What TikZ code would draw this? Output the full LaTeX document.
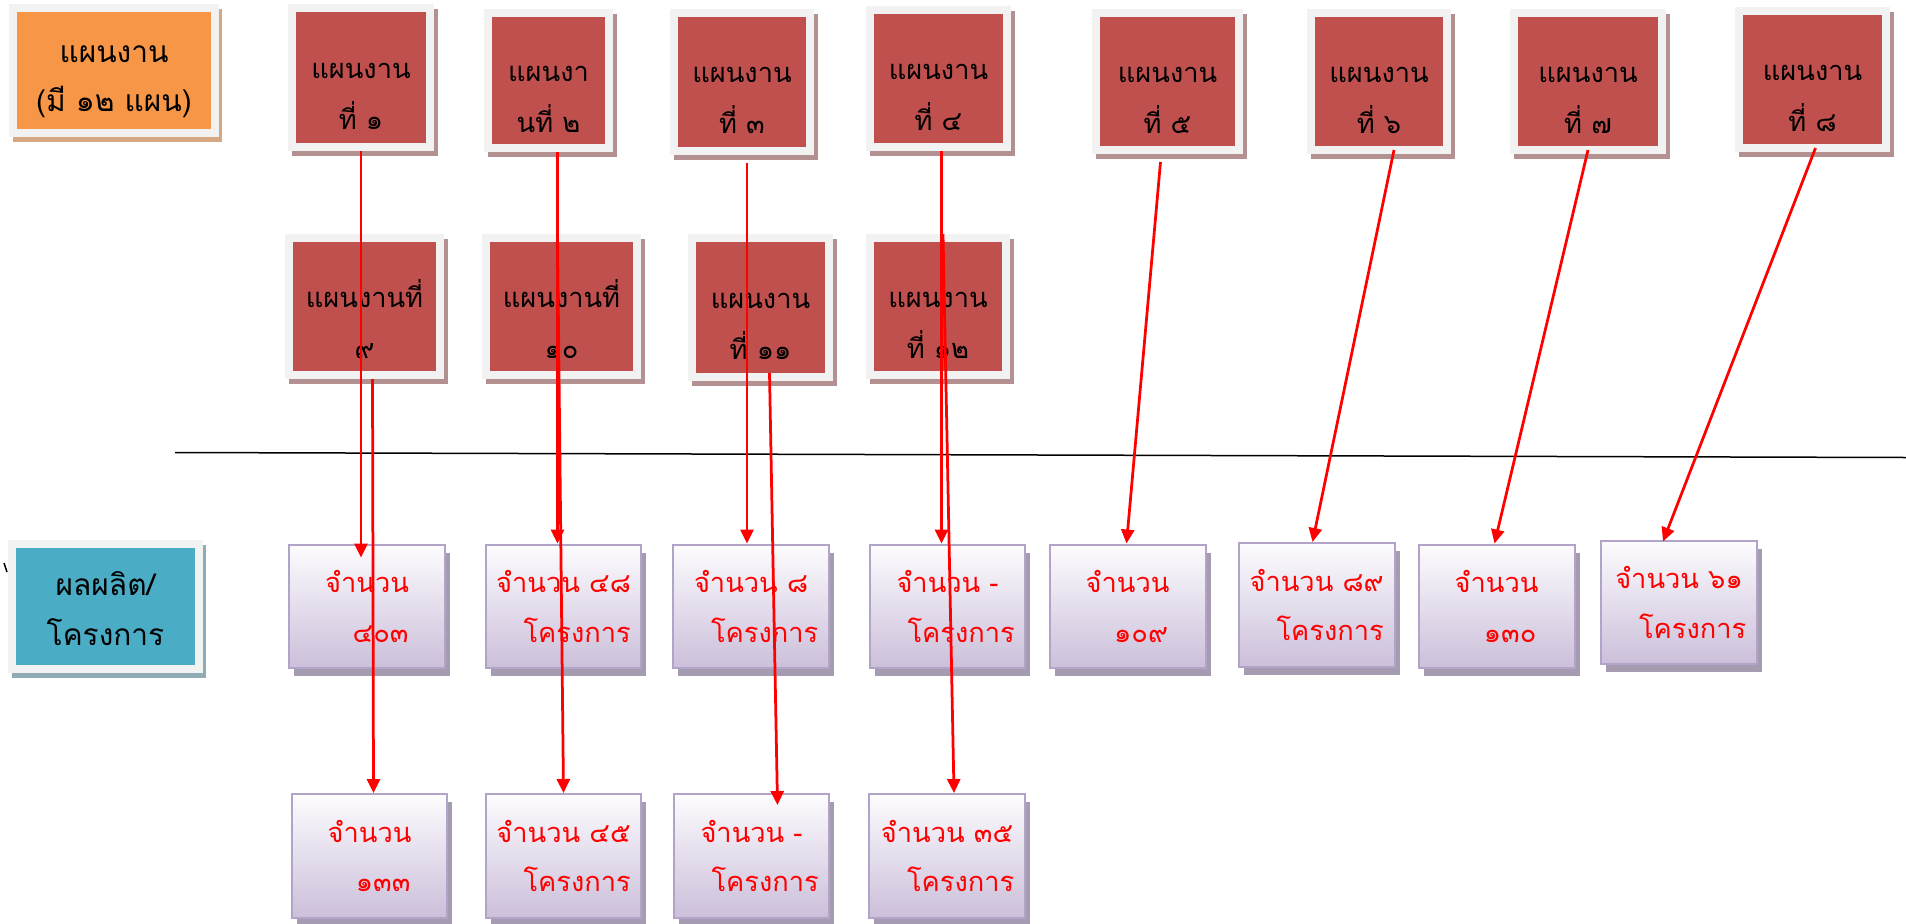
\documentclass[tikz,border=0pt]{standalone}
\usepackage{fontspec}
\usepackage{tikz}
\usetikzlibrary{calc,arrows.meta}
\newfontfamily\thaifont[Script=Thai]{Loma}
\definecolor{planred}{HTML}{C0504D}
\definecolor{planshadow}{HTML}{B39191}
\definecolor{framegray}{HTML}{F2F2F2}
\definecolor{headorange}{HTML}{F79646}
\definecolor{orangeshadow}{HTML}{D6A781}
\definecolor{headblue}{HTML}{4BACC6}
\definecolor{blueshadow}{HTML}{8FABB3}
\definecolor{outtop}{HTML}{FDFCFE}
\definecolor{outbottom}{HTML}{CBBFDA}
\definecolor{outline}{HTML}{B4A3C8}
\definecolor{outshadow}{HTML}{A59CB2}

\begin{document}
\begin{tikzpicture}[x=0.02cm, y=-0.02cm,
  framed/.style={draw=framegray, line width=0.16cm, inner sep=0pt, align=center,
    font=\thaifont\fontsize{15.5}{29}\selectfont,
    preaction={draw=#1, fill=#1, line width=0.16cm,
      transform canvas={xshift=0.07cm, yshift=-0.1cm}}},
  plan/.style={framed=planshadow, fill=planred},
  outbox/.style={draw=outline, line width=0.04cm, top color=outtop,
    bottom color=outbottom, inner sep=0pt, align=center, text=red,
    minimum width=3.12cm, minimum height=2.48cm,
    font=\thaifont\fontsize{15.5}{28}\selectfont,
    preaction={fill=outshadow, transform canvas={xshift=0.1cm, yshift=-0.16cm}}},
  flow/.style={red, line width=0.055cm, -{Triangle[length=0.28cm, width=0.26cm]}}]
  \useasboundingbox (0,0) rectangle (1906,923);
  \def\ind{\hspace*{1em}}
  \def\lift{\rule{0pt}{30pt}}
  % Row headers
  \node[framed=orangeshadow, fill=headorange, minimum width=4.04cm, minimum height=2.5cm,
    font=\thaifont\fontsize{17}{28}\selectfont] (plans) at (114,70.5)
    {\rule{0pt}{22pt}แผนงาน\\(มี ๑๒ แผน)};
  \node[framed=blueshadow, fill=headblue, minimum width=3.74cm, minimum height=2.5cm,
    font=\thaifont\fontsize{17}{28}\selectfont] (outputs) at (105.5,606.5)
    {\rule{0pt}{16pt}ผลผลิต/\\โครงการ};
  \draw[line width=0.03cm] (4,563) -- (7,572);
  % Plans
  \foreach \n/\cx/\cy/\w/\h/\txt in {
    1/361/77.5/138/139/{แผนงาน\\ที่ ๑},
    2/548.5/80.5/121/135/{แผนงา\\นที่ ๒},
    3/742/82/136/138/{แผนงาน\\ที่ ๓},
    4/938.5/78.5/137/137/{แผนงาน\\ที่ ๔},
    5/1167.5/81.5/143/137/{แผนงาน\\ที่ ๕},
    6/1379/81.5/136/137/{แผนงาน\\ที่ ๖},
    7/1588/81.5/148/137/{แผนงาน\\ที่ ๗},
    8/1812.5/79.5/147/137/{แผนงาน\\ที่ ๘},
    9/364.5/306.5/151/137/{แผนงานที่\\๙},
    10/561.5/306.5/151/137/{แผนงานที่\\๑๐},
    11/760.5/307.5/137/139/{แผนงาน\\ที่ ๑๑},
    12/938/306.5/136/137/{แผนงาน\\ที่ ๑๒}}
    \node[plan, minimum width=\w*0.02cm, minimum height=\h*0.02cm] (p\n) at (\cx,\cy)
      {\lift\txt};
  % Outputs
  \foreach \n/\cx/\cy/\txt in {
    1/367/606.5/{จำนวน\\\ind ๔๐๓},
    2/563.5/606.5/{จำนวน ๔๘\\\ind โครงการ},
    3/751/606.5/{จำนวน ๘\\\ind โครงการ},
    4/947.5/606.5/{จำนวน -\\\ind โครงการ},
    5/1127.5/606.5/{จำนวน\\\ind ๑๐๙},
    6/1316.5/605/{จำนวน ๘๙\\\ind โครงการ},
    7/1496.5/606.5/{จำนวน\\\ind ๑๓๐},
    8/1679/602.5/{จำนวน ๖๑\\\ind โครงการ},
    9/369.5/856/{จำนวน\\\ind ๑๓๓},
    10/563.5/856/{จำนวน ๔๕\\\ind โครงการ},
    11/751.5/856/{จำนวน -\\\ind โครงการ},
    12/947/856/{จำนวน ๓๕\\\ind โครงการ}}
    \node[outbox] (o\n) at (\cx,\cy) {\txt};
  % Divider
  \coordinate (divL) at (175,452.5);
  \coordinate (divR) at (1906,457.5);
  \draw[line width=0.03cm] (divL) -- (divR);
  % Plan to output
  \draw[flow, shorten >=-0.28cm] (p1.south) -- (p1.south |- o1.north);
  \draw[flow] ($(p9.south)+(8,0)$) -- ($(o9.north)+(4,0)$);
  \draw[flow] ($(p2.south)+(9,0)$) -- ($(o2.north)+(-6,0)$);
  \draw[flow] ($(p10.north)+(-4,0)$) -- (o10.north);
  \draw[flow] ($(p3.south)+(5,8)$) -- ($(o3.north)+(-4,0)$);
  \draw[flow] ($(p11.south)+(9,-8)$) -- ($(o11.north)+(26,12)$);
  \draw[flow] ($(p4.south)+(3,0)$) -- ($(o4.north)+(-6,0)$);
  \draw[flow] ($(p12.north)+(5,0)$) -- ($(o12.north)+(7,0)$);
  \draw[flow] ($(p5.south)+(-7,8)$) -- ($(o5.north)+(-1,0)$);
  \draw[flow] ($(p6.south)+(15,-4)$) -- ($(o6.north)+(-4,0)$);
  \draw[flow] ($(p7.south)+(0,-4)$) -- ($(o7.north)+(-2,0)$);
  \draw[flow] ($(p8.south)+(3,-4)$) -- ($(o8.north)+(-16,2)$);
\end{tikzpicture}
\end{document}
